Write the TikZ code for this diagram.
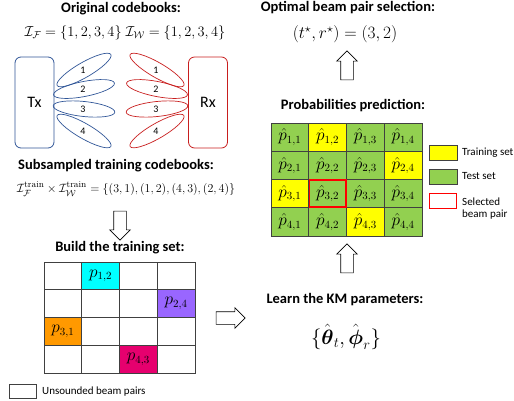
\documentclass[tikz,border=0pt]{standalone}
\usepackage{amsmath,amssymb}
\usepackage{fontspec}
\usepackage{xcolor}
\usepackage{tikz}
\usetikzlibrary{positioning,shapes.arrows}
\newfontfamily\carlito{Carlito}
\definecolor{txblue}{RGB}{47,85,151}
\definecolor{rxred}{RGB}{200,30,30}
\definecolor{gridgrey}{RGB}{64,64,64}
\definecolor{trainc}{RGB}{255,255,0}
\definecolor{testc}{RGB}{146,208,80}
\definecolor{cyanc}{RGB}{0,255,255}
\definecolor{purplec}{RGB}{153,102,255}
\definecolor{orangec}{RGB}{255,153,0}
\definecolor{pinkc}{RGB}{230,0,110}

\begin{document}
\begin{tikzpicture}[x=1pt,y=-1pt,
    head/.style={font=\fontsize{14.5}{16}\selectfont\carlito\bfseries},
    mathbig/.style={font=\fontsize{17}{19}\selectfont},
    mathmid/.style={font=\fontsize{14.5}{16}\selectfont},
    beamlbl/.style={font=\fontsize{10}{11}\selectfont\carlito,inner sep=0pt},
    legtxt/.style={font=\fontsize{11}{12.5}\selectfont\carlito,align=left,anchor=west,inner sep=0pt},
    trxbox/.style={draw,rounded corners=6pt,minimum width=39pt,minimum height=91pt,
      font=\fontsize{16}{18}\selectfont\carlito,line width=0.8pt},
    cell/.style={draw=gridgrey,line width=0.9pt,minimum width=37.75pt,minimum height=27.75pt,
      inner sep=0pt,font=\fontsize{16}{18}\selectfont},
    hcell/.style={cell,minimum height=28.25pt},
    bigarrow/.style={single arrow,draw,line width=0.6pt,minimum height=29pt,
      inner xsep=0pt,inner ysep=6pt,single arrow head extend=4pt}]
  \useasboundingbox (0,0) rectangle (514,400);
  % left column : codebooks
  \node[head] (origtitle) at (121,9) {Original codebooks:};
  \node[mathmid] (origset) at (125,33)
    {$\mathcal{I}_{\mathcal{F}}=\{1,2,3,4\}\;\mathcal{I}_{\mathcal{W}}=\{1,2,3,4\}$};
  \node[trxbox,draw=txblue] (tx) at (34.5,102.5) {Tx};
  \node[trxbox,draw=rxred] (rx) at (208,102.5) {Rx};
  \foreach \i/\yc/\ang in {1/70/30,2/89/11,3/109/-6,4/131/-30}{
    \draw[txblue,line width=0.7pt,rotate around={\ang:(84,\yc)}] (84,\yc) ellipse (31pt and 7.5pt);
    \node[beamlbl] (tb\i) at (83,\yc) {\i};
    \draw[rxred,line width=0.7pt,rotate around={-\ang:(157,\yc)}] (157,\yc) ellipse (31pt and 7.5pt);
    \node[beamlbl] (rb\i) at (156,\yc) {\i};}
  \node[head] (subtitle) at (116,166) {Subsampled training codebooks:};
  \node[font=\fontsize{13}{15}\selectfont] (subset) at (126,189)
    {$\mathcal{I}^{\mathrm{train}}_{\mathcal{F}}\times\mathcal{I}^{\mathrm{train}}_{\mathcal{W}}
      =\{(3,1),(1,2),(4,3),(2,4)\}$};
  \node[bigarrow,rotate=-90] (adown) at (120,222.5) {};
  \node[head] (buildtitle) at (120,248) {Build the training set:};
  \foreach \r/\c/\col/\txt in {1/1/white/{},1/2/cyanc/{$p_{1,2}$},1/3/white/{},1/4/white/{},
      2/1/white/{},2/2/white/{},2/3/white/{},2/4/purplec/{$p_{2,4}$},
      3/1/orangec/{$p_{3,1}$},3/2/white/{},3/3/white/{},3/4/white/{},
      4/1/white/{},4/2/white/{},4/3/pinkc/{$p_{4,3}$},4/4/white/{}}
    \node[cell,fill=\col] (L\r\c) at ({44+(\c-0.5)*37.75},{262+(\r-0.5)*27.75}) {\txt};
  \node[cell,minimum width=27pt,minimum height=14pt] (legU) at (22.5,391) {};
  \node[legtxt] (legUtxt) at (42,392) {Unsounded beam pairs};
  \node[bigarrow] (aright) at (227.5,318) {};
  % right column : prediction
  \node[head] (opttitle) at (348,8) {Optimal beam pair selection:};
  \node[mathbig] (optset) at (345,34) {$(t^{\star},r^{\star})=(3,2)$};
  \node[bigarrow,rotate=90] (aup1) at (347,68.5) {};
  \node[head] (probtitle) at (353,106) {Probabilities prediction:};
  \foreach \r/\cols in {1/{testc,trainc,testc,testc},2/{testc,testc,testc,trainc},
      3/{trainc,testc,testc,testc},4/{testc,testc,trainc,testc}}
    \foreach \col [count=\c] in \cols
      \node[hcell,fill=\col] (H\r\c) at ({271+(\c-0.5)*37.75},{123+(\r-0.5)*28.25}) {$\hat{p}_{\r,\c}$};
  \node[draw=red,line width=1.4pt,minimum width=36.5pt,minimum height=27pt,inner sep=0pt] (sel) at (H32) {};
  \node[cell,fill=trainc,minimum width=28pt,minimum height=15pt] (legT) at (443,152.5) {};
  \node[legtxt] (legTtxt) at (462,153) {Training set};
  \node[cell,fill=testc,minimum width=28pt,minimum height=15pt] (legG) at (443,176.5) {};
  \node[legtxt] (legGtxt) at (462,176) {Test set};
  \node[cell,draw=red,line width=1.2pt,minimum width=27pt,minimum height=15pt] (legS) at (443,201) {};
  \node[legtxt] (legStxt) at (462,208.5) {Selected\\beam pair};
  \node[bigarrow,rotate=90] (aup2) at (347,261.5) {};
  \node[head] (kmtitle) at (345,300) {Learn the KM parameters:};
  \node[font=\fontsize{21}{23}\selectfont] (kmset) at (346,337)
    {$\{\hat{\boldsymbol{\theta}}_t,\hat{\boldsymbol{\phi}}_r\}$};
\end{tikzpicture}
\end{document}
